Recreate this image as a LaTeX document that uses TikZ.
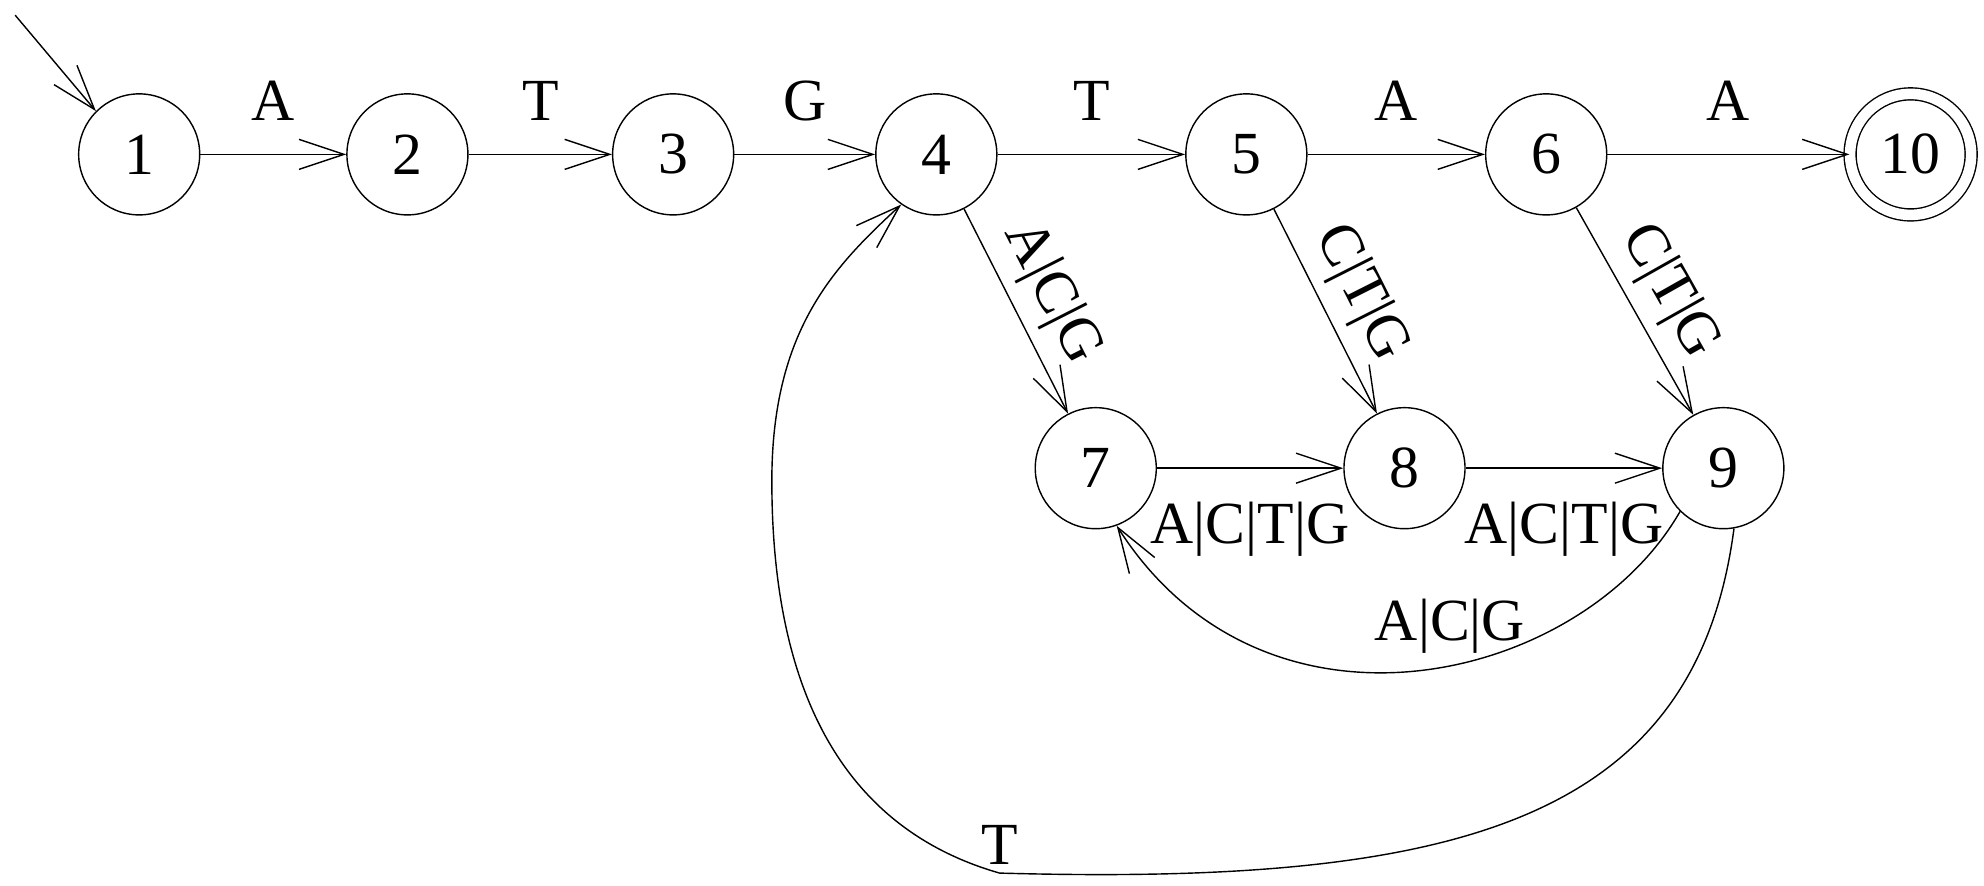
\documentclass[tikz,border=0pt]{standalone}
\usepackage{fontspec}
\setmainfont{Liberation Serif}
\usetikzlibrary{arrows.meta}

\tikzset{
    state/.style = {draw, circle, minimum size=1.21cm, inner sep=0pt},
    edge/.style = {draw, -{Straight Barb[length=4.5mm,width=3mm]}}
}

\begin{document}
\begin{tikzpicture}[x=0.01265cm,y=-0.01265cm, font=\fontsize{17}{20}\selectfont]
    \useasboundingbox (0,0) rectangle (1568,700);
    \node[state] (s1) at (110,122) {1};
    \node[state] (s2) at (322,122) {2};
    \node[state] (s3) at (532,122) {3};
    \node[state] (s4) at (740,122) {4};
    \node[state] (s5) at (985,122) {5};
    \node[state] (s6) at (1222,122) {6};
    \node[state, double, double distance=3pt] (s10) at (1510,122) {10};
    \node[state] (s7) at (866,370) {7};
    \node[state] (s8) at (1110,370) {8};
    \node[state] (s9) at (1362,370) {9};
    \coordinate (start) at (12,12);
    \draw[edge] (start) -- (s1.north west);
    \draw[edge] (s1) -- node[above=6pt] {A} (s2);
    \draw[edge] (s2) -- node[above=6pt] {T} (s3);
    \draw[edge] (s3) -- node[above=6pt] {G} (s4);
    \draw[edge] (s4) -- node[above=6pt] {T} (s5);
    \draw[edge] (s5) -- node[above=6pt] {A} (s6);
    \draw[edge] (s6) -- node[above=6pt] {A} (s10);
    \draw[edge] (s4) -- node[sloped, above] {A|C|G} (s7);
    \draw[edge] (s5) -- node[sloped, above] {C|T|G} (s8);
    \draw[edge] (s6) -- node[sloped, above] {C|T|G} (s9);
    \draw[edge] (s7) -- node[below=6pt] {A|C|T|G} (s8);
    \draw[edge] (s8) -- node[below=6pt] {A|C|T|G} (s9);
    \draw[edge] (s9.225) .. controls (1250,540) and (1000,600) .. node[pos=0.45, above] {A|C|G} (s7.290);
    \draw[edge] (s9.280) .. controls (1340,650) and (1150,700) .. (790,690)
        .. controls (650,650) and (610,520) .. (610,380)
        .. controls (610,260) and (660,210) .. (s4.235);
    \node (tlabel) at (790,668) {T};
\end{tikzpicture}
\end{document}
